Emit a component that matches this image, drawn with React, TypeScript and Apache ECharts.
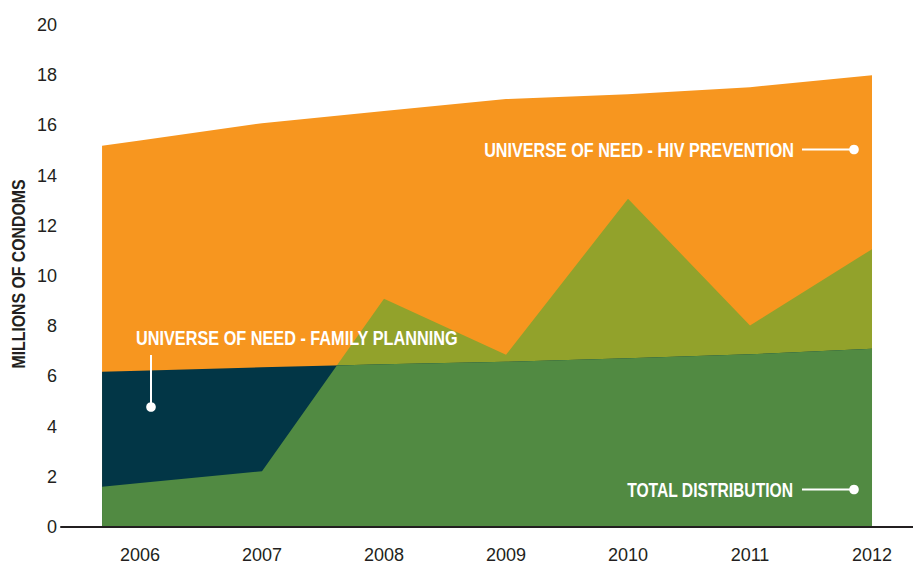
import React, { useEffect, useRef } from "react";
import * as echarts from "echarts";

// ---- Data (millions of condoms) ----
const YEARS = [2006, 2007, 2008, 2009, 2010, 2011, 2012];
const HIV_PREVENTION = [15.4, 16.09, 16.57, 17.05, 17.24, 17.52, 18.0];
const FAMILY_PLANNING = [6.23, 6.36, 6.48, 6.58, 6.72, 6.88, 7.1];
const TOTAL_DISTRIBUTION = [1.75, 2.22, 9.09, 6.86, 13.08, 8.03, 11.07];

const Y_MIN = 0;
const Y_MAX = 20;
const Y_INTERVAL = 2;

// ---- Layout / style constants ----
const X_MIN = 2005.3525;
const X_MAX = 2012.336;
const AREA_START = 2005.689; // the shaded areas begin a little before the first year

const ORANGE = "#F7961F";
const OLIVE = "#92A22B";
const NAVY = "#023646";
const GREEN = "#518A42";
const INK = "#231F20";
const FONT = "'Liberation Sans', Arial, sans-serif";

type Pt = [number, number];

function buildLine(vals: number[]): Pt[] {
  const first = vals[0] + ((vals[1] - vals[0]) * (AREA_START - YEARS[0])) / (YEARS[1] - YEARS[0]);
  return [[AREA_START, first] as Pt, ...YEARS.map((y, i) => [y, vals[i]] as Pt)];
}

function minLine(a: Pt[], b: Pt[]): Pt[] {
  const out: Pt[] = [];
  for (let i = 0; i < a.length; i++) {
    out.push([a[i][0], Math.min(a[i][1], b[i][1])]);
    if (i < a.length - 1) {
      const d0 = a[i][1] - b[i][1];
      const d1 = a[i + 1][1] - b[i + 1][1];
      if (d0 * d1 < 0) {
        const t = d0 / (d0 - d1);
        const x = a[i][0] + t * (a[i + 1][0] - a[i][0]);
        const v = a[i][1] + t * (a[i + 1][1] - a[i][1]);
        out.push([x, v]);
      }
    }
  }
  return out;
}

const labelText = (text: string, x: number, y: number, align: string, scaleX: number) => ({
  type: "text",
  x,
  y,
  z: 100,
  scaleX,
  style: {
    text,
    fill: "#FFFFFF",
    fontSize: 21,
    fontWeight: "bold",
    fontFamily: FONT,
    align,
    verticalAlign: "middle",
    textAlign: align,
    textVerticalAlign: "middle",
  },
});

export default function App() {
  const ref = useRef<HTMLDivElement>(null);

  useEffect(() => {
    if (!ref.current) return;
    const chart = echarts.init(ref.current, undefined, { renderer: "svg" });

    const option: any = {
      animation: false,
      backgroundColor: "#FFFFFF",
      grid: { left: 61, right: 0, top: 25, bottom: 38, containLabel: false },
      xAxis: {
        type: "value",
        min: X_MIN,
        max: X_MAX,
        z: 10,
        axisLine: { show: true, onZero: false, lineStyle: { color: INK, width: 2 } },
        axisTick: { show: false },
        splitLine: { show: false },
        axisLabel: {
          customValues: YEARS,
          formatter: (v: number) => String(Math.round(v)),
          color: INK,
          fontSize: 18,
          fontFamily: FONT,
          margin: 19,
        },
      },
      yAxis: {
        type: "value",
        min: Y_MIN,
        max: Y_MAX,
        interval: Y_INTERVAL,
        axisLine: { show: false },
        axisTick: { show: false },
        splitLine: { show: false },
        axisLabel: { color: INK, fontSize: 18, fontFamily: FONT, margin: 4 },
      },
      series: [
        {
          type: "custom",
          coordinateSystem: "cartesian2d",
          data: [[YEARS[0], 0]],
          clip: false,
          silent: true,
          z: 1,
          renderItem: (_params: any, api: any) => {
            const hiv = buildLine(HIV_PREVENTION);
            const fp = buildLine(FAMILY_PLANNING);
            const td = buildLine(TOTAL_DISTRIBUTION);
            const both = minLine(fp, td);
            const area = (pts: Pt[]) => {
              const top = pts.map((p) => api.coord(p));
              const x0 = pts[0][0];
              const x1 = pts[pts.length - 1][0];
              return [...top, api.coord([x1, 0]), api.coord([x0, 0])];
            };
            return {
              type: "group",
              children: [
                { type: "polygon", shape: { points: area(hiv) }, style: { fill: ORANGE } },
                { type: "polygon", shape: { points: area(td) }, style: { fill: OLIVE } },
                { type: "polygon", shape: { points: area(fp) }, style: { fill: NAVY } },
                { type: "polygon", shape: { points: area(both) }, style: { fill: GREEN } },
              ],
            };
          },
        },
      ],
      graphic: [
        {
          type: "text",
          x: 19,
          y: 274,
          rotation: Math.PI / 2,
          scaleX: 0.88,
          style: {
            text: "MILLIONS OF CONDOMS",
            fill: INK,
            fontSize: 18,
            fontWeight: "bold",
            fontFamily: FONT,
            align: "center",
            verticalAlign: "middle",
            textAlign: "center",
            textVerticalAlign: "middle",
          },
        },
        // HIV prevention annotation
        labelText("UNIVERSE OF NEED - HIV PREVENTION", 794, 150, "right", 0.77),
        { type: "line", z: 100, shape: { x1: 802, y1: 149.5, x2: 852, y2: 149.5 }, style: { stroke: "#FFFFFF", lineWidth: 2 } },
        { type: "circle", z: 100, shape: { cx: 854, cy: 149.5, r: 4.8 }, style: { fill: "#FFFFFF" } },
        // Family planning annotation
        labelText("UNIVERSE OF NEED - FAMILY PLANNING", 136, 338, "left", 0.775),
        { type: "line", z: 100, shape: { x1: 151, y1: 355, x2: 151, y2: 405 }, style: { stroke: "#FFFFFF", lineWidth: 2 } },
        { type: "circle", z: 100, shape: { cx: 151, cy: 407, r: 4.8 }, style: { fill: "#FFFFFF" } },
        // Total distribution annotation
        labelText("TOTAL DISTRIBUTION", 793, 490, "right", 0.745),
        { type: "line", z: 100, shape: { x1: 802, y1: 489.5, x2: 852, y2: 489.5 }, style: { stroke: "#FFFFFF", lineWidth: 2 } },
        { type: "circle", z: 100, shape: { cx: 854, cy: 489.5, r: 4.8 }, style: { fill: "#FFFFFF" } },
      ],
    };

    chart.setOption(option);
    return () => chart.dispose();
  }, []);

  return (
    <div
      ref={ref}
      style={{ position: "fixed", left: 0, top: 0, width: 913, height: 565, background: "#FFFFFF" }}
    />
  );
}
